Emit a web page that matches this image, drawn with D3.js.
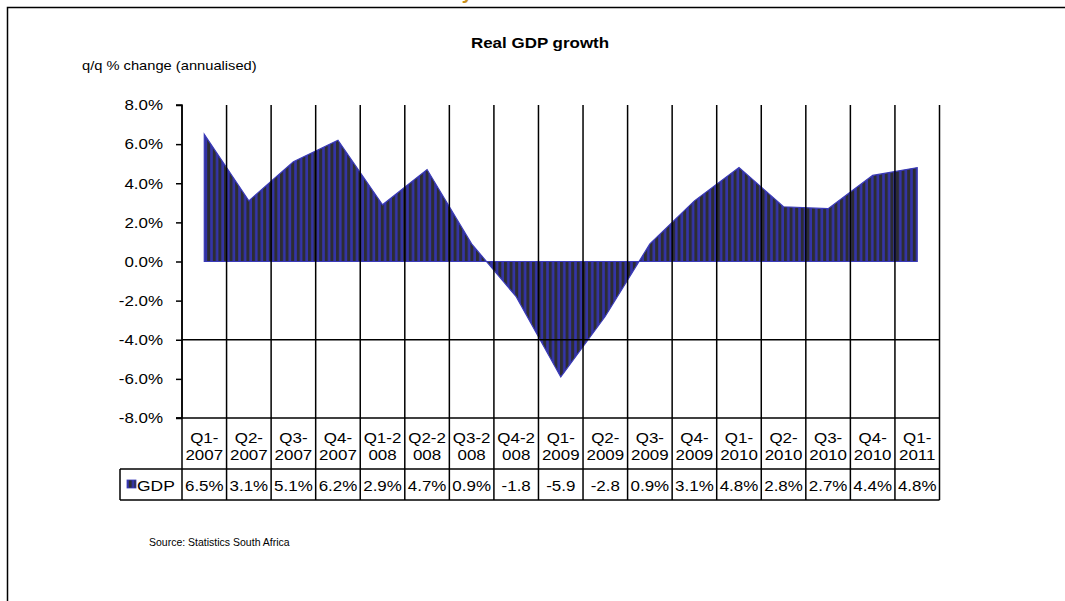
<!DOCTYPE html>
<html>
<head>
<meta charset="utf-8">
<script src="https://cdn.jsdelivr.net/npm/d3@7"></script>
<style>
  html, body { margin: 0; padding: 0; background: #ffffff; }
  svg { display: block; }
  text { font-family: "Liberation Sans", Arial, sans-serif; fill: #000; }
</style>
</head>
<body>
<svg id="chart" width="1065" height="601"></svg>
<script>
// Quarterly real GDP growth, q/q % change annualised
const categories = ["Q1-2007","Q2-2007","Q3-2007","Q4-2007","Q1-2008","Q2-2008","Q3-2008","Q4-2008",
  "Q1-2009","Q2-2009","Q3-2009","Q4-2009","Q1-2010","Q2-2010","Q3-2010","Q4-2010","Q1-2011"];
// Category labels as they wrap inside the data-table cells
const categoryLines = [["Q1-","2007"],["Q2-","2007"],["Q3-","2007"],["Q4-","2007"],["Q1-2","008"],["Q2-2","008"],
  ["Q3-2","008"],["Q4-2","008"],["Q1-","2009"],["Q2-","2009"],["Q3-","2009"],["Q4-","2009"],["Q1-","2010"],
  ["Q2-","2010"],["Q3-","2010"],["Q4-","2010"],["Q1-","2011"]];
const gdp = [6.5, 3.1, 5.1, 6.2, 2.9, 4.7, 0.9, -1.8, -5.9, -2.8, 0.9, 3.1, 4.8, 2.8, 2.7, 4.4, 4.8];
const yTicks = [8, 6, 4, 2, 0, -2, -4, -6, -8];
const seriesName = "GDP";

const svg = d3.select("#chart");

// Plot geometry
const plotLeft = 182, plotRight = 939.5, plotTop = 105, plotBottom = 418;
const row1Bottom = 469, row2Bottom = 500, legendLeft = 120;
// The chart text is set slightly wide
const SX = 1.13;

const x = d3.scaleBand().domain(categories).range([plotLeft, plotRight]).padding(0);
const y = d3.scaleLinear().domain([-8, 8]).range([plotBottom, plotTop]);
const cx = d => x(d) + x.bandwidth() / 2;

function label(parent, px, py, str, size, anchor, bold, sx = SX) {
  return parent.append("text")
    .attr("transform", `translate(${px},${py}) scale(${sx},1)`)
    .attr("text-anchor", anchor || "start")
    .style("font-size", size + "px")
    .style("font-weight", bold ? "bold" : "normal")
    .text(str);
}

// Striped fill used by the area and the legend key
const defs = svg.append("defs");
const pat = defs.append("pattern")
  .attr("id", "stripes").attr("patternUnits", "userSpaceOnUse")
  .attr("width", 5.6).attr("height", 10);
pat.append("rect").attr("width", 5.6).attr("height", 10).attr("fill", "#3434a8");
pat.append("rect").attr("width", 3).attr("height", 10).attr("fill", "#2d2d33");

// Outer frame (left and top edges)
svg.append("path")
  .attr("d", "M7.5,601 L7.5,7.5 L1065,7.5")
  .attr("fill", "none").attr("stroke", "#000").attr("stroke-width", 1.5);

// Heading above the frame, mostly outside the page
svg.append("text")
  .attr("x", 473).attr("y", -1).attr("text-anchor", "end")
  .style("font-size", "20px").style("font-weight", "bold").style("fill", "#c8901c")
  .text("Economy");

// Titles
label(svg, 540, 48, "Real GDP growth", 15, "middle", true);
label(svg, 82, 70, "q/q % change  (annualised)", 13, "start", false);

// Area from the zero line to each quarter's value
const area = d3.area()
  .x(d => cx(d.cat))
  .y0(y(0))
  .y1(d => y(d.v));
const data = categories.map((c, i) => ({ cat: c, v: gdp[i] }));
svg.append("path")
  .datum(data)
  .attr("d", area)
  .attr("fill", "url(#stripes)")
  .attr("stroke", "#3a3ab8").attr("stroke-width", 1.2);

// Vertical gridlines at category boundaries, running through the data table
const bounds = categories.map(c => x(c)).concat([plotRight]);
svg.append("g").selectAll("line").data(bounds).join("line")
  .attr("x1", d => d).attr("x2", d => d)
  .attr("y1", plotTop).attr("y2", row2Bottom)
  .attr("stroke", "#000").attr("stroke-width", 1.5);

// Horizontal rules: -4% line and the table's horizontal borders
svg.append("line")
  .attr("x1", plotLeft).attr("x2", plotRight).attr("y1", y(-4)).attr("y2", y(-4))
  .attr("stroke", "#000").attr("stroke-width", 1.5);
svg.append("line").attr("x1", plotLeft - 6).attr("x2", plotRight)
  .attr("y1", y(-8)).attr("y2", y(-8)).attr("stroke", "#000").attr("stroke-width", 1.5);
svg.append("line").attr("x1", legendLeft).attr("x2", plotRight)
  .attr("y1", row1Bottom).attr("y2", row1Bottom).attr("stroke", "#000").attr("stroke-width", 1.5);
svg.append("line").attr("x1", legendLeft).attr("x2", plotRight)
  .attr("y1", row2Bottom).attr("y2", row2Bottom).attr("stroke", "#000").attr("stroke-width", 1.5);
svg.append("line").attr("x1", legendLeft).attr("x2", legendLeft)
  .attr("y1", row1Bottom).attr("y2", row2Bottom).attr("stroke", "#000").attr("stroke-width", 1.5);

// Value axis
const yAxis = d3.axisLeft(y)
  .tickValues(yTicks)
  .tickSize(6)
  .tickPadding(13)
  .tickFormat(d => d.toFixed(1) + "%");
const gy = svg.append("g").attr("transform", `translate(${plotLeft},0)`).call(yAxis);
gy.select(".domain").attr("stroke", "#000").attr("stroke-width", 1.5)
  .attr("d", `M-6,${plotTop}H0V${plotBottom}H-6`);
gy.selectAll(".tick line").attr("stroke", "#000").attr("stroke-width", 1.5);
gy.selectAll(".tick text")
  .attr("x", 0)
  .attr("transform", `translate(-19,0) scale(${SX},1)`)
  .style("font-family", '"Liberation Sans", Arial, sans-serif')
  .style("font-size", "15px").attr("fill", "#000");

// Data table: category labels
const catG = svg.append("g");
categories.forEach((c, i) => {
  label(catG, cx(c), 443, categoryLines[i][0], 15, "middle", false);
  label(catG, cx(c), 460, categoryLines[i][1], 15, "middle", false);
});

// Data table: series values (negative values are clipped by the cell width)
const fmtCell = v => v < 0 ? v.toFixed(1) : v.toFixed(1) + "%";
const valG = svg.append("g");
data.forEach(d => label(valG, cx(d.cat), 491, fmtCell(d.v), 15, "middle", false));

// Legend key and series name
svg.append("rect")
  .attr("x", 127).attr("y", 480).attr("width", 9).attr("height", 8)
  .attr("fill", "url(#stripes)").attr("stroke", "#3a3ab8").attr("stroke-width", 0.8);
label(svg, 137, 491, seriesName, 15.5, "start", false);

// Source note
label(svg, 149, 546, "Source: Statistics South Africa", 10.5, "start", false, 1);
</script>
</body>
</html>
